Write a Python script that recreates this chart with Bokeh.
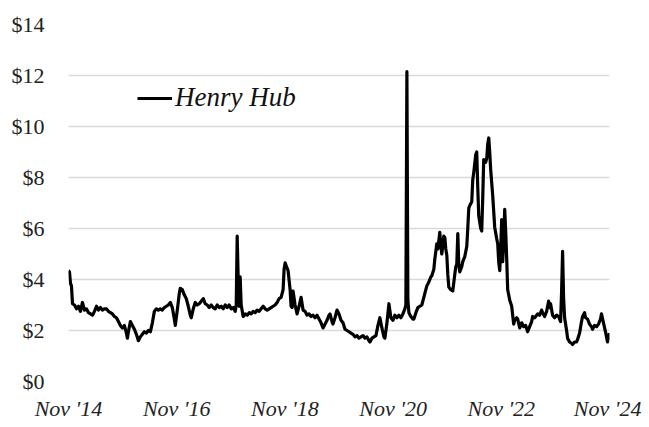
from bokeh.plotting import figure
from bokeh.models import Range1d, FixedTicker, PrintfTickFormatter, Legend, LegendItem
from bokeh.embed import file_html
from bokeh.resources import INLINE

# Weekly Henry Hub spot price (decimal year, $/MMBtu)
years = [
    2014.833, 2014.851, 2014.870, 2014.888, 2014.907, 2014.944, 2014.981,
    2015.018, 2015.054, 2015.091, 2015.128, 2015.165, 2015.202, 2015.239, 2015.276,
    2015.313, 2015.350, 2015.387, 2015.423, 2015.460, 2015.497, 2015.534, 2015.571,
    2015.608, 2015.645, 2015.682, 2015.719, 2015.756, 2015.792, 2015.829, 2015.866,
    2015.903, 2015.922, 2015.940, 2015.977,
    2016.014, 2016.051, 2016.088, 2016.125, 2016.161, 2016.198, 2016.235, 2016.272,
    2016.309, 2016.346, 2016.383, 2016.420, 2016.457, 2016.494, 2016.530, 2016.567,
    2016.604, 2016.641, 2016.678, 2016.715, 2016.752, 2016.789, 2016.807, 2016.844,
    2016.881, 2016.899, 2016.936, 2016.973,
    2017.010, 2017.047, 2017.084, 2017.102, 2017.139, 2017.176, 2017.213, 2017.250,
    2017.287, 2017.324, 2017.361, 2017.398, 2017.434, 2017.471, 2017.508, 2017.545,
    2017.582, 2017.619, 2017.656, 2017.693, 2017.730, 2017.767, 2017.803, 2017.840,
    2017.877, 2017.914, 2017.933, 2017.951, 2017.970, 2017.988,
    2018.006, 2018.025, 2018.062, 2018.099, 2018.136, 2018.173, 2018.209, 2018.246,
    2018.283, 2018.320, 2018.357, 2018.394, 2018.431, 2018.468, 2018.505, 2018.542,
    2018.578, 2018.615, 2018.652, 2018.689, 2018.726, 2018.763, 2018.800, 2018.818,
    2018.837, 2018.855, 2018.892, 2018.929, 2018.947, 2018.966, 2018.984,
    2019.021, 2019.058, 2019.095, 2019.132, 2019.169, 2019.206, 2019.243, 2019.280,
    2019.316, 2019.353, 2019.390, 2019.427, 2019.464, 2019.501, 2019.538, 2019.575,
    2019.612, 2019.649, 2019.667, 2019.704, 2019.722, 2019.759, 2019.796, 2019.833,
    2019.870, 2019.907, 2019.944, 2019.981,
    2020.018, 2020.054, 2020.091, 2020.128, 2020.165, 2020.202, 2020.239, 2020.276,
    2020.313, 2020.350, 2020.387, 2020.405, 2020.442, 2020.479, 2020.516, 2020.553,
    2020.589, 2020.626, 2020.663, 2020.682, 2020.719, 2020.756, 2020.792, 2020.829,
    2020.866, 2020.903, 2020.940, 2020.977,
    2021.014, 2021.051, 2021.069, 2021.088, 2021.106, 2021.125, 2021.161, 2021.198,
    2021.217, 2021.254, 2021.291, 2021.327, 2021.364, 2021.401, 2021.438, 2021.457,
    2021.494, 2021.530, 2021.549, 2021.586, 2021.604, 2021.641, 2021.660, 2021.696,
    2021.715, 2021.733, 2021.770, 2021.789, 2021.807, 2021.826, 2021.844, 2021.863,
    2021.899, 2021.936, 2021.973, 2021.992,
    2022.010, 2022.029, 2022.047, 2022.065, 2022.102, 2022.121, 2022.158, 2022.195,
    2022.213, 2022.232, 2022.250, 2022.287, 2022.305, 2022.324, 2022.361, 2022.379,
    2022.398, 2022.416, 2022.453, 2022.471, 2022.490, 2022.508, 2022.545, 2022.564,
    2022.582, 2022.601, 2022.619, 2022.637, 2022.674, 2022.711, 2022.748, 2022.767,
    2022.785, 2022.804, 2022.822, 2022.840, 2022.859, 2022.877, 2022.896, 2022.914,
    2022.933, 2022.951, 2022.988,
    2023.025, 2023.043, 2023.062, 2023.080, 2023.117, 2023.136, 2023.173, 2023.209,
    2023.246, 2023.283, 2023.320, 2023.357, 2023.394, 2023.412, 2023.449, 2023.486,
    2023.505, 2023.542, 2023.578, 2023.597, 2023.634, 2023.671, 2023.708, 2023.726,
    2023.744, 2023.781, 2023.818, 2023.855, 2023.892, 2023.929, 2023.947, 2023.966,
    2023.984,
    2024.003, 2024.040, 2024.058, 2024.095, 2024.132, 2024.150, 2024.187, 2024.224,
    2024.243, 2024.280, 2024.316, 2024.335, 2024.372, 2024.390, 2024.427, 2024.464,
    2024.501, 2024.519, 2024.556, 2024.593, 2024.630, 2024.667, 2024.685, 2024.722,
    2024.759, 2024.796, 2024.815, 2024.833,
]

henry_hub = [
    4.35, 4.30, 3.85, 3.75, 3.05, 3.00, 2.85,
    2.95, 2.75, 3.10, 2.80, 2.85, 2.70, 2.65, 2.60,
    2.75, 2.95, 2.80, 2.90, 2.80, 2.85, 2.85, 2.75,
    2.70, 2.65, 2.55, 2.50, 2.35, 2.20, 2.10, 2.20,
    1.90, 1.70, 1.95, 2.35,
    2.20, 2.05, 1.85, 1.60, 1.75, 1.85, 1.95, 1.90,
    2.00, 1.95, 2.30, 2.75, 2.85, 2.80, 2.85, 2.80,
    2.90, 2.95, 3.00, 3.10, 2.90, 2.45, 2.20, 2.80,
    3.45, 3.65, 3.60, 3.40,
    3.25, 2.95, 2.60, 2.50, 2.85, 3.10, 3.00, 3.05,
    3.15, 3.25, 3.05, 3.00, 2.90, 3.00, 2.90, 2.85,
    3.00, 2.90, 2.95, 2.85, 3.00, 2.90, 3.00, 2.85,
    2.90, 2.75, 3.00, 5.70, 4.00, 2.95,
    4.10, 3.00, 2.55, 2.65, 2.60, 2.70, 2.65, 2.75,
    2.70, 2.80, 2.75, 2.85, 2.95, 2.85, 2.80, 2.85,
    2.90, 2.95, 3.00, 3.10, 3.25, 3.30, 3.60, 4.40,
    4.65, 4.55, 4.35, 3.60, 2.95, 2.90, 3.55,
    3.00, 2.65, 2.95, 3.30, 2.80, 2.75, 2.60, 2.65,
    2.55, 2.60, 2.50, 2.60, 2.45, 2.30, 2.10, 2.25,
    2.40, 2.60, 2.65, 2.35, 2.25, 2.50, 2.80, 2.65,
    2.40, 2.30, 2.05, 2.00,
    1.95, 1.90, 1.85, 1.75, 1.80, 1.70, 1.75, 1.80,
    1.70, 1.75, 1.60, 1.55, 1.70, 1.75, 1.80, 2.20,
    2.50, 2.10, 1.75, 1.70, 2.30, 3.05, 2.50, 2.40,
    2.60, 2.50, 2.60, 2.50,
    2.65, 2.85, 3.00, 12.15, 3.20, 2.70, 2.55, 2.45,
    2.45, 2.70, 2.90, 2.95, 3.00, 3.30, 3.60, 3.75,
    3.90, 4.10, 4.15, 4.40, 4.80, 5.40, 5.20, 5.85,
    5.35, 5.00, 5.70, 5.65, 5.20, 4.95, 4.20, 3.70,
    3.60, 3.55, 4.20, 4.50,
    4.60, 5.80, 4.60, 4.30, 4.50, 4.70, 4.90, 5.30,
    6.00, 6.80, 6.90, 7.05, 7.90, 8.20, 8.90, 9.00,
    7.60, 6.50, 6.00, 5.90, 7.20, 8.70, 8.60, 8.75,
    9.30, 9.55, 9.00, 8.30, 7.30, 6.05, 5.60, 5.40,
    4.70, 4.35, 5.20, 6.35, 4.70, 5.50, 6.75, 5.90,
    4.80, 3.60, 3.20,
    2.95, 2.60, 2.25, 2.40, 2.50, 2.45, 2.10, 2.30,
    2.15, 2.20, 1.95, 2.15, 2.35, 2.55, 2.50, 2.60,
    2.65, 2.60, 2.80, 2.70, 2.55, 2.75, 3.15, 2.90,
    3.05, 2.60, 2.50, 2.60, 2.55, 2.35, 3.50, 5.10,
    3.30,
    2.50, 2.00, 1.70, 1.55, 1.50, 1.45, 1.55, 1.55,
    1.65, 1.90, 2.35, 2.55, 2.70, 2.50, 2.45, 2.25,
    2.15, 2.05, 2.20, 2.15, 2.25, 2.45, 2.65, 2.30,
    1.95, 1.55, 1.70, 1.90,
]

tick_years = [2014.833, 2016.833, 2018.833, 2020.833, 2022.833, 2024.833]
tick_labels = ["Nov '14", "Nov '16", "Nov '18", "Nov '20", "Nov '22", "Nov '24"]
y_ticks = [0, 2, 4, 6, 8, 10, 12, 14]
series_name = "Henry Hub"

FONT = "Liberation Serif"

p = figure(width=641, height=423, output_backend="svg", toolbar_location=None,
           x_range=Range1d(tick_years[0], tick_years[-1]), y_range=Range1d(0, 14),
           min_border_left=68, min_border_right=32, min_border_top=24, min_border_bottom=40)
p.outline_line_color = None
p.background_fill_color = "white"

r = p.line(years, henry_hub, line_color="black", line_width=3.2, line_join="round")

p.xaxis.ticker = FixedTicker(ticks=tick_years)
p.xaxis.major_label_overrides = {t: l for t, l in zip(tick_years, tick_labels)}
p.yaxis.ticker = FixedTicker(ticks=y_ticks)
p.yaxis.formatter = PrintfTickFormatter(format="$%d")

for ax in (p.xaxis, p.yaxis):
    ax.axis_line_color = None
    ax.major_tick_line_color = None
    ax.minor_tick_line_color = None
    ax.major_tick_out = 0
    ax.major_tick_in = 0
    ax.major_label_text_font = FONT
    ax.major_label_text_color = "#222222"
p.xaxis.major_label_text_font_size = "22px"
p.yaxis.major_label_text_font_size = "22px"
p.xaxis.major_label_text_font_style = "italic"
p.xaxis.major_label_standoff = 14
p.yaxis.major_label_standoff = 24

p.xgrid.grid_line_color = None
p.ygrid.ticker = FixedTicker(ticks=y_ticks)
p.ygrid.grid_line_color = "#d9d9d9"
p.ygrid.grid_line_width = 1.5

legend = Legend(items=[LegendItem(label=series_name, renderers=[r])],
                location=(69, 268), orientation="vertical")
legend.background_fill_alpha = 0
legend.border_line_color = None
legend.padding = 0
legend.margin = 0
legend.glyph_width = 35
legend.label_standoff = 3
legend.label_text_font = FONT
legend.label_text_font_style = "italic"
legend.label_text_font_size = "27px"
legend.label_text_color = "#111111"
p.add_layout(legend, "center")

open("out.html", "w").write(file_html(p, INLINE))
